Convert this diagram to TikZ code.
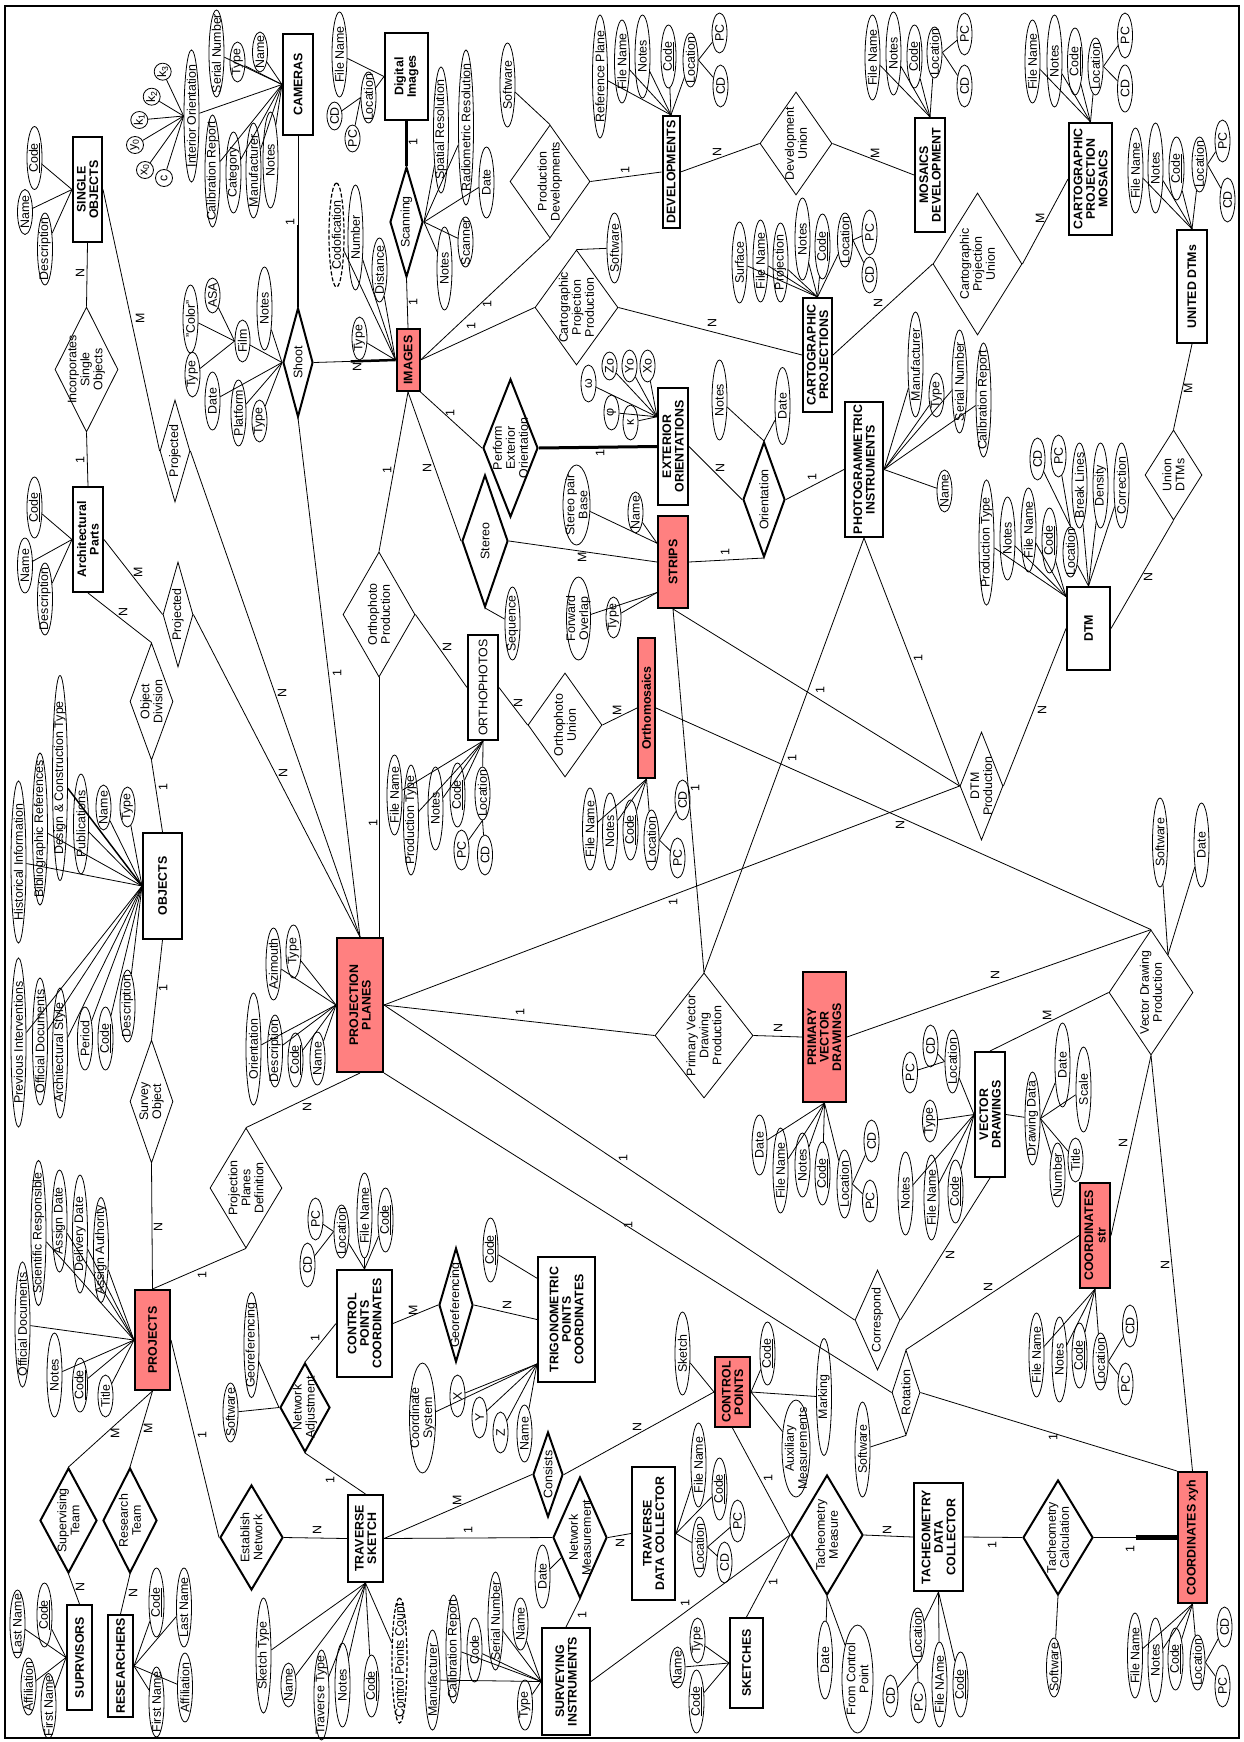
\documentclass[tikz,border=0pt]{standalone}
\usepackage{fontspec}
\setmainfont{Liberation Sans}
\usepackage{tikz}
\usetikzlibrary{shapes.geometric,calc}
\definecolor{entred}{RGB}{255,128,128}
\tikzset{
  ent/.style 2 args={draw, line width=2pt, rotate=90, inner sep=1pt, align=center,
    font=\fontsize{12.4}{12.5}\selectfont\bfseries, minimum width=#1, minimum height=#2},
  entr/.style 2 args={ent={#1}{#2}, fill=entred},
  rel/.style 2 args={diamond, draw, line width=0.8pt, rotate=90, inner sep=-60pt,
    align=center, minimum width=#1, minimum height=#2},
  relb/.style 2 args={rel={#1}{#2}, line width=2pt},
  attr/.style={ellipse, draw, line width=0.8pt, rotate=90, inner xsep=-90pt,
    inner ysep=-10pt, align=center, minimum height=15, minimum width=#1},
  attrd/.style={attr=#1, line width=1.2pt, dash pattern=on 4pt off 2pt},
  sub/.style={circle, draw, line width=0.8pt, rotate=90, inner sep=0pt, minimum size=17},
  card/.style={rotate=90, inner sep=0pt},
  link/.style={line width=0.8pt},
  heavy/.style={line width=3pt},
}
\begin{document}
\begin{tikzpicture}[x=1pt,y=-1pt,font=\fontsize{12.4}{13}\selectfont]
\useasboundingbox (0,0) rectangle (1244,1742);
\draw[line width=1.5pt] (5,6) rectangle (1239,1738);

%Shape: Entities
\node[ent={105}{29}] (so) at (87.5,189.5) {SINGLE\\OBJECTS};
\node[ent={105}{30}] (ap) at (88,539.5) {Architectural\\Parts};
\node[ent={106}{39}] (obj) at (162.5,886) {OBJECTS};
\node[ent={101}{30}] (cam) at (298,84.5) {CAMERAS};
\node[ent={87}{43}] (di) at (406.5,76.5) {Digital\\Images};
\node[entr={62}{23}] (img) at (408,360) {IMAGES};
\node[ent={112}{17}] (dev) at (671,172) {DEVELOPMENTS};
\node[ent={114}{30}] (mosdev) at (930,175) {MOSAICS\\DEVELOPMENT};
\node[ent={112}{43}] (cpm) at (1090.5,179) {CARTOGRAPHIC\\PROJECTION\\MOSAICS};
\node[ent={114}{29}] (cp) at (817.5,355) {CARTOGRAPHIC\\PROJECTIONS};
\node[ent={113}{30}] (udtm) at (1192,286.5) {UNITED DTMs};
\node[ent={117}{30}] (ext) at (673,446.5) {EXTERIOR\\ORIENTATIONS};
\node[ent={135}{38}] (pi) at (864,469.5) {PHOTOGRAMMETRIC\\INSTRUMENTS};
\node[entr={92}{30}] (strips) at (673,562) {STRIPS};
\node[ent={83}{43}] (dtm) at (1088.5,628.5) {DTM};
\node[ent={105}{30}, font=\fontsize{12.4}{12.5}\selectfont] (ortho) at (483,687.5) {ORTHOPHOTOS};
\node[entr={140}{17}] (omos) at (646.5,708) {Orthomosaics};
\node[entr={134}{46}] (pp) at (360,1005) {PROJECTION\\PLANES};
\node[entr={130}{43}] (pvd) at (824.5,1037) {PRIMARY\\VECTOR\\DRAWINGS};
\node[ent={125}{30}] (vd) at (990,1114.5) {VECTOR\\DRAWINGS};
\node[entr={105}{30}] (cstr) at (1095,1235.5) {COORDINATES\\str};
\node[entr={100}{35}] (prj) at (152.5,1340) {PROJECTS};
\node[ent={107}{55}] (cpc) at (364.5,1323.5) {CONTROL\\POINTS\\COORDINATES};
\node[ent={125}{57}] (tpc) at (566.5,1319.5) {TRIGONOMETRIC\\POINTS\\COORDINATES};
\node[entr={70}{35}] (ctl) at (732.5,1392) {CONTROL\\POINTS};
\node[ent={105}{25}] (sup) at (79.5,1657.5) {SUPRVISORS};
\node[ent={102}{25}] (res) at (120.5,1666) {RESEARCHERS};
\node[ent={87}{35}] (ts) at (365.5,1538.5) {TRAVERSE\\SKETCH};
\node[ent={133}{43}] (tdc) at (653.5,1533.5) {TRAVERSE\\DATA COLLECTOR};
\node[ent={107}{48}] (si) at (566,1681.5) {SURVEYING\\INSTRUMENTS};
\node[ent={90}{33}] (sk) at (746.5,1663) {SKETCHES};
\node[ent={108}{49}] (tachdc) at (938.5,1537) {TACHEOMETRY\\DATA\\COLLECTOR};
\node[entr={131}{29}] (cxyh) at (1192.5,1537.5) {COORDINATES xyh};

%Shape: Relationships
\node[rel={125}{63}] (inc) at (86.5,369.5) {Incorporates\\Single\\Objects};
\node[rel={102}{30}] (prja) at (175,451) {Projected};
\node[rel={105}{30}] (prjb) at (178,614.5) {Projected};
\node[rel={117}{43}] (objdiv) at (151.5,701.5) {Object\\Division};
\node[rel={123}{43}] (survey) at (151.5,1101.5) {Survey\\Object};
\node[relb={109}{30}] (shoot) at (298,362.5) {Shoot};
\node[relb={110}{33}] (scan) at (406.5,222) {Scanning};
\node[rel={113}{80}] (proddev) at (550,181.5) {Production\\Developments};
\node[rel={115}{83}] (cpp) at (576.5,307.5) {Cartographic\\Projection\\Production};
\node[rel={103}{72}] (devu) at (796,143.5) {Development\\Union};
\node[rel={142}{89}] (cpu) at (977.5,264) {Cartographic\\Projection\\Union};
\node[relb={138}{55}] (peo) at (510.5,448) {Perform\\Exterior\\Orientation};
\node[relb={132}{46}] (stereo) at (485,541) {Stereo};
\node[relb={115}{42}] (orient) at (764,499.5) {Orientation};
\node[rel={125}{72}] (orthoprod) at (379,614.5) {Orthophoto\\Production};
\node[rel={104}{74}] (orthou) at (565,725) {Orthophoto\\Union};
\node[rel={108}{43}] (dtmprod) at (981.5,786) {DTM\\Production};
\node[rel={90}{57}] (udtms) at (1173.5,475) {Union\\DTMs};
\node[rel={125}{98}] (pvdp) at (704,1035.5) {Primary Vector\\Drawing\\Production};
\node[rel={125}{84}] (vdp) at (1151,992.5) {Vector Drawing\\Production};
\node[rel={120}{72}] (ppdef) at (246,1188) {Projection\\Planes\\Definition};
\node[rel={100}{45}] (corr) at (877.5,1320) {Correspond};
\node[rel={85}{28}] (rot) at (906,1392.5) {Rotation};
\node[relb={105}{57}] (supt) at (68.5,1520.5) {Supervising\\Team};
\node[relb={105}{54}] (rest) at (130,1520.5) {Research\\Team};
\node[relb={105}{63}] (estn) at (251.5,1537.5) {Establish\\Network};
\node[relb={89}{50}] (netadj) at (305,1407.5) {Network\\Adjustment};
\node[relb={114}{34}] (georef) at (456,1305) {Georeferencing};
\node[relb={85}{30}] (cons) at (548,1474.5) {Consists};
\node[relb={121}{54}] (netm) at (580,1537.5) {Network\\Measurement};
\node[relb={120}{72}] (tachm) at (827,1535) {Tacheometry\\Measure};
\node[relb={115}{70}] (tachc) at (1058,1537.5) {Tacheometry\\Calculation};

%Straight Lines: relationship links
\draw[link] (so.west) -- (inc.east);
\draw[link] (inc.west) -- (ap.east);
\draw[link] (so.south) -- (prja.north);
\draw[link] (ap.south) -- (prjb.north);
\draw[link] (ap.west) -- (objdiv.east);
\draw[link] (objdiv.west) -- (obj.east);
\draw[link] (obj.west) -- (survey.east);
\draw[link] (survey.west) -- (prj.east);
\draw[link] (prja.south) -- (pp.east);
\draw[link] (prjb.south) -- (pp.east);
\draw[link] (shoot.west) -- (pp.east);
\coordinate (cam-m) at ($(cam.west)!0.52!(shoot.east)$);
\draw[link] (cam.west) -- (cam-m);
\draw[line width=2.5pt] (cam-m) -- (shoot.east);
\coordinate (shoot-m) at ($(shoot.south)!0.45!(img.north)$);
\draw[link] (shoot.south) -- (shoot-m);
\draw[line width=2.5pt] (shoot-m) -- (img.north);
\draw[heavy] (di.west) -- (scan.east);
\draw[link] (scan.west) -- (img.east);
\draw[link] (img.south) -- (proddev.west);
\draw[link] (img.south) -- (cpp.north);
\draw[link] (proddev.south) -- (dev.north);
\draw[link] (dev.south) -- (devu.north);
\draw[link] (devu.south) -- (mosdev.north);
\draw[link] (cpp.south) -- (cp.north);
\draw[link] (cp.south) -- (cpu.north);
\draw[link] (cpu.south) -- (cpm.north);
\draw[link] (udtm.west) -- (udtms.east);
\draw[link] (udtms.west) -- (dtm.south);
\draw[link] (img.south west) -- (peo.north);
\draw[heavy] (peo.south) -- (ext.north);
\draw[link] (ext.south) -- (orient.north);
\draw[link] (strips.south) -- (orient.west);
\draw[link] (orient.south) -- (pi.north);
\draw[link] (img.west) -- (stereo.north);
\draw[link] (stereo.south) -- (strips.north);
\draw[link] (img.west) -- (orthoprod.east);
\draw[link] (orthoprod.west) -- (orthoprod.west |- pp.east);
\draw[link] (orthoprod.south) -- (ortho.north);
\draw[link] (ortho.south) -- (orthou.north);
\draw[link] (orthou.south) -- (omos.north);
\draw[link] (strips.west) -- (pvdp.east);
\draw[link] (pi.west) -- (pvdp.east);
\draw[link] (pi.west) -- (dtmprod.north);
\draw[link] (strips.west) -- (dtmprod.north);
\draw[link] (omos.south) -- (vdp.east);
\draw[link] (dtm.north) -- (dtmprod.south);
\draw[link] (pp.south) -- (dtmprod.north);
\draw[link] (pp.south) -- (pvdp.north);
\draw[link] (pvdp.south) -- (pvd.north);
\draw[link] (pvd.south) -- (vdp.east);
\draw[link] (vd.east) -- (vdp.north);
\draw[link] (vdp.west) -- (cstr.south);
\draw[link] (vdp.west) -- (cxyh.east);
\draw[link] (pp.south) -- (corr.north);
\draw[link] (pp.south west) -- (rot.north);
\draw[link] (vd.west) -- (corr.south);
\draw[link] (cstr.north) -- (rot.east);
\draw[link] (rot.south) -- (cxyh.north east);
\draw[link] (pp.west) -- (ppdef.east);
\draw[link] (ppdef.west) -- (prj.east);
\draw[link] (prj.west) -- (supt.east);
\draw[link] (prj.west) -- (rest.east);
\draw[link] (supt.west) -- (sup.east);
\draw[link] (rest.west) -- (res.east);
\draw[link] (prj.south) -- (estn.north);
\draw[link] (estn.south) -- (ts.north);
\draw[link] (netadj.west) -- (ts.east);
\draw[link] (netadj.east) -- (cpc.north);
\draw[link] (cpc.south) -- (georef.north);
\draw[link] (georef.south) -- (tpc.north);
\draw[link] (ts.south) -- (cons.north);
\draw[link] (cons.south) -- (ctl.north);
\draw[link] (ts.south) -- (netm.north);
\draw[link] (netm.south) -- (tdc.north);
\draw[link] (netm.west) -- (si.east);
\draw[link] (ctl.west) -- (tachm.north);
\draw[link] (sk.east) -- (tachm.north);
\draw[link] (si.south) -- (tachm.north);
\draw[link] (tachm.south) -- (tachdc.north);
\draw[link] (tachdc.south) -- (tachc.north);
\coordinate (tachc-m) at ($(tachc.south)!0.5!(cxyh.north)$);
\draw[line width=1.6pt] (tachc.south) -- (tachc-m);
\draw[line width=5pt] (tachc-m) -- (cxyh.north);

% Text Node: cardinalities
\node[card] (k1) at (80,273) {N};
\node[card] (k2) at (80,460) {1};
\node[card] (k3) at (140,318) {M};
\node[card] (k4) at (138,572) {M};
\node[card] (k5) at (123,612) {N};
\node[card] (k6) at (163,787) {1};
\node[card] (k7) at (163,988) {1};
\node[card] (k8) at (158,1227) {N};
\node[card] (k9) at (282,693) {N};
\node[card] (k10) at (283,773) {N};
\node[card] (k11) at (337,673) {1};
\node[card] (k12) at (290,222) {1};
\node[card] (k13) at (357,367) {N};
\node[card] (k14) at (413,142) {1};
\node[card] (k15) at (413,302) {1};
\node[card] (k16) at (487,304) {1};
\node[card] (k17) at (471,326) {1};
\node[card] (k18) at (625,170) {1};
\node[card] (k19) at (717,152) {N};
\node[card] (k20) at (875,153) {M};
\node[card] (k21) at (712,323) {N};
\node[card] (k22) at (878,303) {N};
\node[card] (k23) at (1040,218) {M};
\node[card] (k24) at (1188,388) {M};
\node[card] (k25) at (1148,577) {N};
\node[card] (k26) at (450,413) {1};
\node[card] (k27) at (600,453) {1};
\node[card] (k28) at (720,468) {N};
\node[card] (k29) at (725,552) {1};
\node[card] (k30) at (812,477) {1};
\node[card] (k31) at (427,468) {N};
\node[card] (k32) at (582,557) {M};
\node[card] (k33) at (387,470) {1};
\node[card] (k34) at (373,823) {1};
\node[card] (k35) at (447,647) {N};
\node[card] (k36) at (518,703) {N};
\node[card] (k37) at (617,710) {M};
\node[card] (k38) at (695,788) {1};
\node[card] (k39) at (918,658) {1};
\node[card] (k40) at (820,690) {1};
\node[card] (k41) at (792,758) {1};
\node[card] (k42) at (1042,710) {N};
\node[card] (k43) at (673,902) {1};
\node[card] (k44) at (900,825) {N};
\node[card] (k45) at (520,1012) {1};
\node[card] (k46) at (778,1028) {N};
\node[card] (k47) at (995,975) {N};
\node[card] (k48) at (1047,1015) {M};
\node[card] (k49) at (1123,1143) {N};
\node[card] (k50) at (1165,1265) {N};
\node[card] (k51) at (623,1158) {1};
\node[card] (k52) at (628,1225) {1};
\node[card] (k53) at (950,1255) {N};
\node[card] (k54) at (988,1287) {N};
\node[card] (k55) at (1053,1437) {1};
\node[card] (k56) at (307,1107) {N};
\node[card] (k57) at (202,1275) {1};
\node[card] (k58) at (115,1433) {M};
\node[card] (k59) at (148,1428) {M};
\node[card] (k60) at (80,1587) {N};
\node[card] (k61) at (133,1593) {N};
\node[card] (k62) at (202,1435) {1};
\node[card] (k63) at (317,1530) {N};
\node[card] (k64) at (330,1480) {1};
\node[card] (k65) at (315,1338) {1};
\node[card] (k66) at (413,1310) {M};
\node[card] (k67) at (507,1305) {N};
\node[card] (k68) at (457,1500) {M};
\node[card] (k69) at (637,1427) {N};
\node[card] (k70) at (468,1530) {1};
\node[card] (k71) at (620,1543) {N};
\node[card] (k72) at (582,1615) {1};
\node[card] (k73) at (768,1478) {1};
\node[card] (k74) at (773,1582) {1};
\node[card] (k75) at (685,1603) {1};
\node[card] (k76) at (887,1530) {N};
\node[card] (k77) at (992,1545) {1};
\node[card] (k78) at (1130,1549) {1};

%Shape: Ellipse attributes
% SINGLE OBJECTS
\node[attr=63] (so-code) at (34.5,158) {\underline{Code}};
\node[attr=45] (so-name) at (25,212) {Name};
\node[attr=72] (so-desc) at (45,249) {Description};
\draw[link] (so-code) -- (so.north);
\draw[link] (so-name) -- (so.north);
\draw[link] (so-desc) -- (so.north);
% CAMERAS
\node[attr=40] (cam-name) at (260,52) {Name};
\node[attr=40] (cam-type) at (237.5,62) {Type};
\node[attr=87] (cam-sn) at (216.5,53.5) {Serial Number};
\node[attr=132] (cam-io) at (191.5,116) {Interior Orientation};
\node[attr=112] (cam-cal) at (212.5,171) {Calibration Report};
\node[attr=81] (cam-cat) at (233.5,172.5) {Category};
\node[attr=95] (cam-man) at (253.5,170.5) {Manufacturer};
\node[attr=96] (cam-notes) at (270.5,160) {Notes};
\draw[link] (cam-name) -- (cam.north);
\draw[link] (cam-type) -- (cam.north);
\draw[link] (cam-sn) -- (cam.north);
\draw[link] (cam-io) -- (cam.north);
\draw[link] (cam-cal) -- (cam.north);
\draw[link] (cam-cat) -- (cam.north);
\draw[link] (cam-man) -- (cam.north);
\draw[link] (cam-notes) -- (cam.north);
\node[sub] (io-k3) at (162.7,71.7) {k\textsubscript{3}};
\node[sub] (io-k2) at (151.7,96.7) {k\textsubscript{2}};
\node[sub] (io-k1) at (139.3,120) {k\textsubscript{1}};
\node[sub] (io-y0) at (135,145) {y\textsubscript{0}};
\node[sub] (io-x0) at (145,170) {x\textsubscript{0}};
\node[sub] (io-c) at (164,178) {c};
\draw[link] (io-k3) -- (cam-io.north);
\draw[link] (io-k2) -- (cam-io.north);
\draw[link] (io-k1) -- (cam-io.north);
\draw[link] (io-y0) -- (cam-io.north);
\draw[link] (io-x0) -- (cam-io.north);
\draw[link] (io-c) -- (cam-io.north);
% Digital Images
\node[attr=85] (di-fn) at (339.5,54.5) {File Name};
\node[attr=51] (di-loc) at (368.5,97.5) {Location};
\node[attr=28] (di-cd) at (334.5,116) {CD};
\node[attr=27] (di-pc) at (352.5,138.5) {PC};
\draw[link] (di-fn) -- (di.north);
\draw[link] (di-loc) -- (di.north);
\draw[link] (di-cd) -- (di-loc.north);
\draw[link] (di-pc) -- (di-loc.north);
% Scanning
\node[attr=126] (scan-sr) at (441,130) {Spatial Resolution};
\node[attr=155] (scan-rr) at (466,127.5) {Radiometric Resolution};
\node[attr=71] (scan-date) at (486.5,182.5) {Date};
\node[attr=50] (scan-scn) at (465.5,242) {Scanner};
\node[attr=83] (scan-notes) at (444.5,268.5) {Notes};
\draw[link] (scan-sr) -- (scan.south);
\draw[link] (scan-rr) -- (scan.south);
\draw[link] (scan-date) -- (scan.south);
\draw[link] (scan-scn) -- (scan.south);
\draw[link] (scan-notes) -- (scan.south);
% IMAGES
\node[attr=43] (img-type) at (359.5,338.5) {Type};
\node[attrd=104] (img-cod) at (336.5,235) {Codofication};
\node[attr=105] (img-num) at (355.5,237.5) {Number};
\node[attr=64] (img-dist) at (379.5,270) {Distance};
\draw[link] (img-type) -- (img.north);
\draw[link] (img-cod) -- (img.north);
\draw[link] (img-num) -- (img.north);
\draw[link] (img-dist) -- (img.north);
% Shoot
\node[attr=83] (sh-notes) at (264.5,308.5) {Notes};
\node[attr=42] (sh-film) at (242.5,341) {Film};
\node[attr=68] (sh-color) at (190.5,319) {"Color"};
\node[attr=35] (sh-asa) at (212.5,295.5) {ASA};
\node[attr=45] (sh-ftype) at (192.5,374.5) {Type};
\node[attr=58] (sh-date) at (212.5,401) {Date};
\node[attr=66] (sh-plat) at (238.5,413) {Platform};
\node[attr=42] (sh-type) at (259.5,421) {Type};
\draw[link] (sh-notes) -- (shoot.north);
\draw[link] (sh-film) -- (shoot.north);
\draw[link] (sh-date) -- (shoot.north);
\draw[link] (sh-plat) -- (shoot.north);
\draw[link] (sh-type) -- (shoot.north);
\draw[link] (sh-color) -- (sh-film.north);
\draw[link] (sh-asa) -- (sh-film.north);
\draw[link] (sh-ftype) -- (sh-film.north);
% Production Developments / Cartographic Projection Production
\node[attr=84] (pd-sw) at (507.5,85) {Software};
\node[attr=70] (cpp-sw) at (614.5,248) {Software};
\draw[link] (pd-sw) -- (proddev.east);
\draw[link] (cpp-sw) -- (cpp.east);
% DEVELOPMENTS
\node[attr=123] (dev-ref) at (600,76.5) {Reference Plane};
\node[attr=83] (dev-fn) at (622,61.5) {File Name};
\node[attr=83] (dev-notes) at (642.5,56.5) {Notes};
\node[attr=63] (dev-code) at (668.5,56.5) {\underline{Code}};
\node[attr=54] (dev-loc) at (690.5,60) {Location};
\node[attr=40] (dev-pc) at (719.5,33) {PC};
\node[attr=42] (dev-cd) at (720.5,86) {CD};
\draw[link] (dev-ref) -- (dev.east);
\draw[link] (dev-fn) -- (dev.east);
\draw[link] (dev-notes) -- (dev.east);
\draw[link] (dev-code) -- (dev.east);
\draw[link] (dev-loc) -- (dev.east);
\draw[link] (dev-pc) -- (dev-loc.south);
\draw[link] (dev-cd) -- (dev-loc.south);
% MOSAICS DEVELOPMENT
\node[attr=85] (md-fn) at (872.5,57.5) {File Name};
\node[attr=83] (md-notes) at (893.5,53.5) {Notes};
\node[attr=63] (md-code) at (914.5,56.5) {\underline{Code}};
\node[attr=51] (md-loc) at (934.5,52.5) {Location};
\node[attr=42] (md-pc) at (964.5,34) {PC};
\node[attr=42] (md-cd) at (964.5,86) {CD};
\draw[link] (md-fn) -- (mosdev.east);
\draw[link] (md-notes) -- (mosdev.east);
\draw[link] (md-code) -- (mosdev.east);
\draw[link] (md-loc) -- (mosdev.east);
\draw[link] (md-pc) -- (md-loc.south);
\draw[link] (md-cd) -- (md-loc.south);
% CARTOGRAPHIC PROJECTION MOSAICS
\node[attr=83] (cpm-fn) at (1032.5,61.5) {File Name};
\node[attr=92] (cpm-notes) at (1054.5,61) {Notes};
\node[attr=67] (cpm-code) at (1075,61.5) {\underline{Code}};
\node[attr=57] (cpm-loc) at (1095.5,66.5) {Location};
\node[attr=45] (cpm-pc) at (1125,35.5) {PC};
\node[attr=47] (cpm-cd) at (1125,88.5) {CD};
\draw[link] (cpm-fn) -- (cpm.east);
\draw[link] (cpm-notes) -- (cpm.east);
\draw[link] (cpm-code) -- (cpm.east);
\draw[link] (cpm-loc) -- (cpm.east);
\draw[link] (cpm-pc) -- (cpm-loc.south);
\draw[link] (cpm-cd) -- (cpm-loc.south);
% CARTOGRAPHIC PROJECTIONS
\node[attr=81] (cp-surf) at (739.5,262.5) {Surface};
\node[attr=82] (cp-fn) at (760.5,261) {File Name};
\node[attr=79] (cp-proj) at (780.5,262.5) {Projection};
\node[attr=82] (cp-notes) at (802.5,239) {Notes};
\node[attr=65] (cp-code) at (822.5,246.5) {\underline{Code}};
\node[attr=54] (cp-loc) at (845,240) {Location};
\node[attr=45] (cp-pc) at (869.5,232.5) {PC};
\node[attr=36] (cp-cd) at (869.5,275) {CD};
\draw[link] (cp-surf) -- (cp.east);
\draw[link] (cp-fn) -- (cp.east);
\draw[link] (cp-proj) -- (cp.east);
\draw[link] (cp-notes) -- (cp.east);
\draw[link] (cp-code) -- (cp.east);
\draw[link] (cp-loc) -- (cp.east);
\draw[link] (cp-pc) -- (cp-loc.south);
\draw[link] (cp-cd) -- (cp-loc.south);
% UNITED DTMs
\node[attr=85] (ud-fn) at (1135.5,170.5) {File Name};
\node[attr=90] (ud-notes) at (1155.5,168) {Notes};
\node[attr=63] (ud-code) at (1176.5,168.5) {\underline{Code}};
\node[attr=55] (ud-loc) at (1199.5,164.5) {Location};
\node[attr=42] (ud-pc) at (1222.5,141) {PC};
\node[attr=44] (ud-cd) at (1227.5,200) {CD};
\draw[link] (ud-fn) -- (udtm.east);
\draw[link] (ud-notes) -- (udtm.east);
\draw[link] (ud-code) -- (udtm.east);
\draw[link] (ud-loc) -- (udtm.east);
\draw[link] (ud-pc) -- (ud-loc.south);
\draw[link] (ud-cd) -- (ud-loc.south);
% EXTERIOR ORIENTATIONS
\coordinate (ext-a) at ($(ext.north)!0.5!(ext.north east)$);
\node[attr=37] (ext-w) at (588.5,383.5) {ω};
\node[attr=28] (ext-zo) at (609.5,366) {Zo};
\node[attr=32] (ext-yo) at (629.5,366) {Yo};
\node[attr=32] (ext-xo) at (647.5,366) {Xo};
\node[attr=35] (ext-phi) at (611.5,412.5) {φ};
\node[attr=35] (ext-kap) at (630.5,422.5) {κ};
\draw[link] (ext-w) -- (ext-a);
\draw[link] (ext-zo) -- (ext-a);
\draw[link] (ext-yo) -- (ext-a);
\draw[link] (ext-xo) -- (ext-a);
\draw[link] (ext-phi) -- (ext-a);
\draw[link] (ext-kap) -- (ext-a);
% Orientation
\node[attr=80] (ori-notes) at (719.5,400) {Notes};
\node[attr=77] (ori-date) at (782.5,406) {Date};
\draw[link] (ori-notes) -- (orient.east);
\draw[link] (ori-date) -- (orient.east);
% PHOTOGRAMMETRIC INSTRUMENTS
\node[attr=105] (pi-man) at (915.5,364.5) {Manufacturer};
\node[attr=44] (pi-type) at (936.5,395) {Type};
\node[attr=103] (pi-sn) at (959.5,381.5) {Serial Number};
\node[attr=114] (pi-cal) at (983.5,400) {Calibration Report};
\node[attr=42] (pi-name) at (944.5,491) {Name};
\draw[link] (pi-man) -- (pi.south);
\draw[link] (pi-type) -- (pi.south);
\draw[link] (pi-sn) -- (pi.south);
\draw[link] (pi-cal) -- (pi.south);
\draw[link] (pi-name) -- (pi.south);
% STRIPS
\coordinate (strips-a) at ($(strips.north)!0.4!(strips.north east)$);
\coordinate (strips-b) at ($(strips.north)!0.65!(strips.north west)$);
\node[attr=41] (st-name) at (635.5,512.5) {Name};
\node[attr=80, minimum height=27] (st-base) at (576.5,505) {Stereo pair\\Base};
\node[attr=83, minimum height=24] (st-fwd) at (578.5,618.5) {Forward\\Overlap};
\node[attr=41] (st-type) at (613.5,617.5) {Type};
\draw[link] (st-name) -- (strips-a);
\draw[link] (st-base) -- (strips-a);
\draw[link] (st-fwd) -- (strips-b);
\draw[link] (st-type) -- (strips-b);
\node[attr=73] (stereo-seq) at (512.5,623.5) {Sequence};
\draw[link] (stereo-seq) -- (stereo.west);
% DTM
\coordinate (dtm-a) at ($(dtm.north east)!0.25!(dtm.north)$);
\node[attr=125] (dtm-pt) at (986.5,542.5) {Production Type};
\node[attr=83] (dtm-notes) at (1007.5,538.5) {Notes};
\node[attr=84] (dtm-fn) at (1028.5,530) {File Name};
\node[attr=65] (dtm-code) at (1049.5,540.5) {\underline{Code}};
\node[attr=50] (dtm-loc) at (1070.5,552) {Location};
\node[attr=42] (dtm-cd) at (1037.5,459) {CD};
\node[attr=42] (dtm-pc) at (1058.5,456) {PC};
\node[attr=85] (dtm-bl) at (1079.5,485.5) {Break Lines};
\node[attr=85] (dtm-den) at (1100.5,485.5) {Density};
\node[attr=85] (dtm-cor) at (1121.5,485.5) {Correction};
\draw[link] (dtm-pt) -- (dtm-a);
\draw[link] (dtm-notes) -- (dtm-a);
\draw[link] (dtm-fn) -- (dtm-a);
\draw[link] (dtm-code) -- (dtm-a);
\draw[link] (dtm-loc) -- (dtm.east);
\draw[link] (dtm-bl) -- (dtm.east);
\draw[link] (dtm-den) -- (dtm.east);
\draw[link] (dtm-cor) -- (dtm.east);
\draw[link] (dtm-cd) -- (dtm-loc.east);
\draw[link] (dtm-pc) -- (dtm-loc.east);
% Architectural Parts
\node[attr=61] (ap-code) at (34.5,507.5) {\underline{Code}};
\node[attr=55] (ap-name) at (25,565.5) {Name};
\node[attr=72] (ap-desc) at (45,599) {Description};
\draw[link] (ap-code) -- (ap.north);
\draw[link] (ap-name) -- (ap.north);
\draw[link] (ap-desc) -- (ap.north);
% ORTHOPHOTOS
\node[attr=80] (ph-fn) at (394.5,795) {File Name};
\node[attr=110] (ph-pt) at (411,820) {Production Type};
\node[attr=83] (ph-notes) at (435.5,808.5) {Notes};
\node[attr=64] (ph-code) at (457.5,795) {\underline{Code}};
\node[attr=53] (ph-loc) at (482.5,793.5) {Location};
\node[attr=40] (ph-pc) at (461.5,850) {PC};
\node[attr=40] (ph-cd) at (485,855) {CD};
\draw[link] (ph-fn) -- (ortho.west);
\draw[link] (ph-pt) -- (ortho.west);
\draw[link] (ph-notes) -- (ortho.west);
\draw[link] (ph-code) -- (ortho.west);
\draw[link] (ph-loc) -- (ortho.west);
\draw[link] (ph-pc) -- (ph-loc.west);
\draw[link] (ph-cd) -- (ph-loc.west);
% Orthomosaics
\node[attr=82] (om-fn) at (590,829) {File Name};
\node[attr=77] (om-notes) at (610,831.5) {Notes};
\node[attr=60] (om-code) at (630.5,830) {\underline{Code}};
\node[attr=60] (om-loc) at (651.5,840) {Location};
\node[attr=40] (om-cd) at (682.5,800) {CD};
\node[attr=40] (om-pc) at (677.5,858) {PC};
\draw[link] (om-fn) -- (omos.west);
\draw[link] (om-notes) -- (omos.west);
\draw[link] (om-code) -- (omos.west);
\draw[link] (om-loc) -- (omos.west);
\draw[link] (om-cd) -- (om-loc.south);
\draw[link] (om-pc) -- (om-loc.south);
% OBJECTS
\node[attr=162] (ob-hist) at (18.5,862) {Historical Information};
\node[attr=152] (ob-bib) at (40,829) {Bibliographic References};
\node[attr=205] (ob-dc) at (60,778) {Design \& Construction Type};
\node[attr=100] (ob-pub) at (81,824) {Publications};
\node[attr=45] (ob-name) at (103.5,807.5) {Name};
\node[attr=40] (ob-type) at (127.5,807) {Type};
\node[attr=169] (ob-prev) at (18.5,1042.5) {Previous Interventions};
\node[attr=127] (ob-off) at (40,1041.5) {Official Documents};
\node[attr=130] (ob-arch) at (60,1053) {Architectural Style};
\node[attr=63] (ob-per) at (85,1038.5) {Period};
\node[attr=63] (ob-code) at (105.5,1038.5) {\underline{Code}};
\node[attr=72] (ob-desc) at (127.5,1006) {Description};
\draw[link] (ob-hist) -- (obj.north);
\draw[link] (ob-bib) -- (obj.north);
\draw[line width=1.5pt] (ob-dc) -- (obj.north);
\draw[link] (ob-pub) -- (obj.north);
\draw[link] (ob-name) -- (obj.north);
\draw[link] (ob-type) -- (obj.north);
\draw[link] (ob-prev) -- (obj.north);
\draw[link] (ob-off) -- (obj.north);
\draw[link] (ob-arch) -- (obj.north);
\draw[link] (ob-per) -- (obj.north);
\draw[link] (ob-code) -- (obj.north);
\draw[link] (ob-desc) -- (obj.north);
% PROJECTION PLANES
\node[attr=72] (pp-az) at (273.5,964) {Azimouth};
\node[attr=53] (pp-type) at (293.5,951.5) {Type};
\node[attr=112] (pp-or) at (253.5,1049) {Orientation};
\node[attr=72] (pp-desc) at (275,1051) {Description};
\node[attr=54] (pp-code) at (295.5,1060) {\underline{Code}};
\node[attr=53] (pp-name) at (317.5,1058.5) {Name};
\draw[link] (pp-az) -- (pp.north);
\draw[link] (pp-type) -- (pp.north);
\draw[link] (pp-or) -- (pp.north);
\draw[link] (pp-desc) -- (pp.north);
\draw[link] (pp-code) -- (pp.north);
\draw[link] (pp-name) -- (pp.north);
% PROJECTS
\node[attr=125] (prj-off) at (22.5,1324.5) {Official Documents};
\node[attr=145] (prj-sci) at (38.5,1233) {Scientific Responsible};
\node[attr=102] (prj-ad) at (59.5,1221) {Assign Date};
\node[attr=118] (prj-dd) at (80,1234) {Delivery Date};
\node[attr=105] (prj-aa) at (101,1250) {Assign Authority};
\node[attr=84] (prj-notes) at (54.5,1375) {Notes};
\node[attr=54] (prj-code) at (80,1385) {\underline{Code}};
\node[attr=42] (prj-title) at (105.5,1396) {Title};
\draw[link] (prj-off) -- (prj.north);
\draw[link] (prj-sci) -- (prj.north);
\draw[link] (prj-ad) -- (prj.north);
\draw[link] (prj-dd) -- (prj.north);
\draw[link] (prj-aa) -- (prj.north);
\draw[link] (prj-notes) -- (prj.north);
\draw[link] (prj-code) -- (prj.north);
\draw[link] (prj-title) -- (prj.north);
% SUPRVISORS / RESEARCHERS
\node[attr=68] (sup-ln) at (17.5,1624) {Last Name};
\node[attr=64] (sup-code) at (44.5,1615) {\underline{Code}};
\node[attr=57] (sup-aff) at (28.5,1686.5) {Affiliation};
\node[attr=65] (sup-fn) at (48.5,1706) {First Name};
\draw[link] (sup-ln) -- (sup.north);
\draw[link] (sup-code) -- (sup.north);
\draw[link] (sup-aff) -- (sup.north);
\draw[link] (sup-fn) -- (sup.north);
\node[attr=69] (res-code) at (156.5,1602.5) {\underline{Code}};
\node[attr=79] (res-ln) at (184,1607.5) {Last Name};
\node[attr=70] (res-fn) at (156.5,1702) {First Name};
\node[attr=69] (res-aff) at (185,1687.5) {Affiliation};
\draw[link] (res-code) -- (res.south);
\draw[link] (res-ln) -- (res.south);
\draw[link] (res-fn) -- (res.south);
\draw[link] (res-aff) -- (res.south);
% TRAVERSE SKETCH
\node[attr=115] (ts-st) at (263.5,1655.5) {Sketch Type};
\node[attr=44] (ts-name) at (288.5,1685) {Name};
\node[attr=90] (ts-tt) at (321.5,1695) {Traverse Type};
\node[attr=84] (ts-notes) at (342.5,1685) {Notes};
\node[attr=62] (ts-code) at (371.5,1686) {\underline{Code}};
\node[attrd=125] (ts-cpc) at (399.5,1660.5) {Control Points Count};
\draw[link] (ts-st) -- (ts.west);
\draw[link] (ts-name) -- (ts.west);
\draw[link] (ts-tt) -- (ts.west);
\draw[link] (ts-notes) -- (ts.west);
\draw[link] (ts-code) -- (ts.west);
\draw[link] (ts-cpc) -- (ts.west);
% Network Adjustment
\node[attr=59] (na-sw) at (230.5,1412.5) {Software};
\node[attr=105] (na-geo) at (251.5,1345) {Georeferencing};
\draw[link] (na-sw) -- (netadj.north);
\draw[link] (na-geo) -- (netadj.north);
% CONTROL POINTS COORDINATES
\node[attr=44] (cpc-cd) at (307.5,1265) {CD};
\node[attr=42] (cpc-pc) at (315.5,1219) {PC};
\node[attr=53] (cpc-loc) at (341.5,1231.5) {Location};
\node[attr=85] (cpc-fn) at (364.5,1215.5) {File Name};
\node[attr=64] (cpc-code) at (385.5,1220) {\underline{Code}};
\draw[link] (cpc-loc) -- (cpc.east);
\draw[link] (cpc-fn) -- (cpc.east);
\draw[link] (cpc-code) -- (cpc.east);
\draw[link] (cpc-cd) -- (cpc-loc.north);
\draw[link] (cpc-pc) -- (cpc-loc.north);
% TRIGONOMETRIC POINTS COORDINATES
\coordinate (tpc-a) at ($(tpc.north)!0.7!(tpc.north west)$);
\coordinate (tpc-b) at ($(tpc.north)!0.65!(tpc.north east)$);
\node[attr=64] (tpc-code) at (490.5,1250) {\underline{Code}};
\node[attr=110, minimum height=26] (tpc-cs) at (422.5,1418) {Coordinate\\System};
\node[attr=42] (tpc-x) at (457.5,1396) {X};
\node[attr=41] (tpc-y) at (479.5,1417.5) {Y};
\node[attr=41] (tpc-z) at (500.5,1432.5) {Z};
\node[attr=57] (tpc-name) at (524.5,1433.5) {Name};
\draw[link] (tpc-code) -- (tpc-b);
\draw[link] (tpc-cs) -- (tpc-a);
\draw[link] (tpc-x) -- (tpc-a);
\draw[link] (tpc-y) -- (tpc-a);
\draw[link] (tpc-z) -- (tpc-a);
\draw[link] (tpc-name) -- (tpc-a);
% Network Measurement
\coordinate (netm-a) at ($(netm.north)!0.33!(netm.west)$);
\node[attr=63] (nm-date) at (542.5,1576.5) {Date};
\draw[link] (nm-date) -- (netm-a);
% TRAVERSE DATA COLLECTOR
\node[attr=84] (tdc-fn) at (698.5,1465) {File Name};
\node[attr=62] (tdc-code) at (719.5,1489) {\underline{Code}};
\node[attr=60] (tdc-loc) at (699.5,1547) {Location};
\node[attr=42] (tdc-pc) at (737.5,1521) {PC};
\node[attr=41] (tdc-cd) at (724.5,1562.5) {CD};
\draw[link] (tdc-fn) -- (tdc.south);
\draw[link] (tdc-code) -- (tdc.south);
\draw[link] (tdc-loc) -- (tdc.south);
\draw[link] (tdc-pc) -- (tdc-loc.south);
\draw[link] (tdc-cd) -- (tdc-loc.south);
% SURVEYING INSTRUMENTS
\node[attr=100] (si-man) at (432.5,1680) {Manufacturer};
\node[attr=108] (si-cal) at (453.5,1649) {Calibration Report};
\node[attr=64] (si-code) at (474.5,1650) {Code};
\node[attr=98] (si-sn) at (495.5,1621) {Serial Number};
\node[attr=52] (si-name) at (520.5,1624) {Name};
\node[attr=50] (si-type) at (525,1705) {Type};
\draw[link] (si-man) -- (si.north);
\draw[link] (si-cal) -- (si.north);
\draw[link] (si-code) -- (si.north);
\draw[link] (si-sn) -- (si.north);
\draw[link] (si-name) -- (si.north);
\draw[link] (si-type) -- (si.north);
% SKETCHES
\node[attr=45] (sk-type) at (697.5,1640.5) {Type};
\node[attr=41] (sk-name) at (677.5,1667.5) {Name};
\node[attr=63] (sk-code) at (696.5,1701.5) {\underline{Code}};
\draw[link] (sk-type) -- (sk.north);
\draw[link] (sk-name) -- (sk.north);
\draw[link] (sk-code) -- (sk.north);
% CONTROL POINTS
\node[attr=83] (ctl-sk) at (682.5,1353.5) {Sketch};
\node[attr=63] (ctl-code) at (767.5,1353.5) {\underline{Code}};
\node[attr=97, minimum height=28] (ctl-aux) at (796,1448.5) {Auxiliary\\Measurements};
\node[attr=117] (ctl-mark) at (824,1397) {Marking};
\draw[link] (ctl-sk) -- (ctl.north);
\draw[link] (ctl-code) -- (ctl.south);
\draw[link] (ctl-aux) -- (ctl.south);
\draw[link] (ctl-mark) -- (ctl.south);
% Tacheometry Measure
\node[attr=78] (tm-date) at (825,1660) {Date};
\node[attr=108, minimum height=31] (tm-from) at (857.5,1679) {From Control\\Point};
\draw[link] (tm-date) -- (tachm.west);
\draw[link] (tm-from) -- (tachm.west);
% TACHEOMETRY DATA COLLECTOR
\node[attr=55] (td-loc) at (917.5,1635.5) {Location};
\node[attr=42] (td-cd) at (890.5,1696) {CD};
\node[attr=41] (td-pc) at (918.5,1702.5) {PC};
\node[attr=85] (td-fn) at (939.5,1684.5) {File NAme};
\node[attr=65] (td-code) at (960.5,1684.5) {\underline{Code}};
\draw[link] (td-loc) -- (tachdc.west);
\draw[link] (td-fn) -- (tachdc.west);
\draw[link] (td-code) -- (tachdc.west);
\draw[link] (td-cd) -- (td-loc.west);
\draw[link] (td-pc) -- (td-loc.west);
% Tacheometry Calculation
\node[attr=59] (tc-sw) at (1054,1667.5) {Software};
\draw[link] (tc-sw) -- (tachc.west);
% COORDINATES xyh
\node[attr=85] (cx-fn) at (1135,1655.5) {File Name};
\node[attr=84] (cx-notes) at (1155.5,1660) {Notes};
\node[attr=62] (cx-code) at (1175.5,1659) {\underline{Code}};
\node[attr=55] (cx-loc) at (1197.5,1662.5) {Location};
\node[attr=40] (cx-cd) at (1224.5,1627) {CD};
\node[attr=42] (cx-pc) at (1222.5,1686) {PC};
\draw[link] (cx-fn) -- (cxyh.west);
\draw[link] (cx-notes) -- (cxyh.west);
\draw[link] (cx-code) -- (cxyh.west);
\draw[link] (cx-loc) -- (cxyh.west);
\draw[link] (cx-cd) -- (cx-loc.south);
\draw[link] (cx-pc) -- (cx-loc.south);
% COORDINATES str
\node[attr=84] (cs-fn) at (1036.5,1355) {File Name};
\node[attr=85] (cs-notes) at (1059.5,1359.5) {Notes};
\node[attr=65] (cs-code) at (1079.5,1355.5) {\underline{Code}};
\node[attr=57] (cs-loc) at (1100.5,1361.5) {Location};
\node[attr=42] (cs-cd) at (1130,1326) {CD};
\node[attr=42] (cs-pc) at (1125.5,1384) {PC};
\draw[link] (cs-fn) -- (cstr.west);
\draw[link] (cs-notes) -- (cstr.west);
\draw[link] (cs-code) -- (cstr.west);
\draw[link] (cs-loc) -- (cstr.west);
\draw[link] (cs-cd) -- (cs-loc.south);
\draw[link] (cs-pc) -- (cs-loc.south);
% Rotation
\node[attr=95] (rot-sw) at (862.5,1449.5) {Software};
\draw[link] (rot-sw) -- (rot.west);
% VECTOR DRAWINGS
\node[attr=41] (vd-pc) at (910,1072.5) {PC};
\node[attr=42] (vd-cd) at (930.5,1046) {CD};
\node[attr=63] (vd-loc) at (952.5,1061.5) {Location};
\node[attr=42] (vd-type) at (930,1121) {Type};
\node[attr=83] (vd-notes) at (905.5,1193.5) {Notes};
\node[attr=85] (vd-fn) at (931.5,1197.5) {File Name};
\node[attr=63] (vd-code) at (955.5,1191.5) {\underline{Code}};
\node[attr=93] (vd-dd) at (1032.5,1118.5) {Drawing Data};
\draw[link] (vd-loc) -- (vd.north);
\draw[link] (vd-type) -- (vd.north);
\draw[link] (vd-notes) -- (vd.north);
\draw[link] (vd-fn) -- (vd.north);
\draw[link] (vd-code) -- (vd.north);
\draw[link] (vd-pc) -- (vd-loc.north);
\draw[link] (vd-cd) -- (vd-loc.north);
\draw[link] (vd-dd) -- (vd.south);
\node[attr=84] (dd-date) at (1062.5,1065) {Date};
\node[attr=85] (dd-scale) at (1083.5,1089.5) {Scale};
\node[attr=64] (dd-num) at (1057.5,1175) {Number};
\node[attr=44] (dd-title) at (1075.5,1160) {Title};
\draw[link] (dd-date) -- (vd-dd.south);
\draw[link] (dd-scale) -- (vd-dd.south);
\draw[link] (dd-num) -- (vd-dd.south);
\draw[link] (dd-title) -- (vd-dd.south);
% PRIMARY VECTOR DRAWINGS
\node[attr=60] (pv-date) at (759.5,1145) {Date};
\node[attr=85] (pv-fn) at (780.5,1170.5) {File Name};
\node[attr=64] (pv-notes) at (802.5,1165) {Notes};
\node[attr=63] (pv-code) at (822.5,1173.5) {\underline{Code}};
\node[attr=68] (pv-loc) at (844.5,1184) {Location};
\node[attr=42] (pv-cd) at (871.5,1141) {CD};
\node[attr=42] (pv-pc) at (870,1201) {PC};
\draw[link] (pv-date) -- (pvd.west);
\draw[link] (pv-fn) -- (pvd.west);
\draw[link] (pv-notes) -- (pvd.west);
\draw[link] (pv-code) -- (pvd.west);
\draw[link] (pv-loc) -- (pvd.west);
\draw[link] (pv-cd) -- (pv-loc.south);
\draw[link] (pv-pc) -- (pv-loc.south);
% Vector Drawing Production
\coordinate (vdp-a) at ($(vdp.east)!0.4!(vdp.south)$);
\node[attr=89] (vdp-sw) at (1160,842.5) {Software};
\node[attr=84] (vdp-date) at (1201.5,845) {Date};
\draw[link] (vdp-sw) -- (vdp-a);
\draw[link] (vdp-date) -- (vdp-a);
\end{tikzpicture}
\end{document}
